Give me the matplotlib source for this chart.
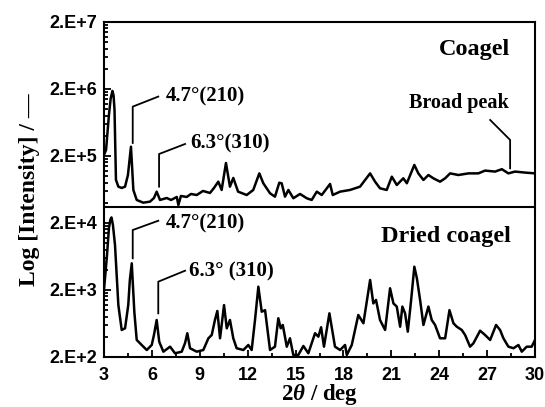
import numpy as np
import matplotlib
matplotlib.use('Agg')
import matplotlib.pyplot as plt
from matplotlib import rcParams
from matplotlib.ticker import FixedLocator, MultipleLocator, NullFormatter

rcParams.update({
    "font.family": 'Liberation Serif',
    "font.weight": 'bold',
    "mathtext.fontset": 'custom',
    "mathtext.rm": 'Liberation Serif:bold',
    "mathtext.it": 'Liberation Serif:italic:bold',
})

# coagel trace (offset upward)
tt_coagel = [3.00, 3.13, 3.22, 3.31, 3.42, 3.53, 3.60, 3.66, 3.75, 3.90, 4.11, 4.32, 4.50, 4.69,
             4.84, 5.05, 5.46,
             5.88, 6.13, 6.30, 6.51, 6.93, 7.20, 7.56, 7.66, 7.82, 8.18, 8.45, 8.81, 9.20, 9.64,
             9.89, 10.16, 10.37, 10.64, 10.89, 11.10, 11.40, 11.94, 12.35, 12.73, 12.98, 13.40,
             13.71, 13.98, 14.13, 14.34, 14.55, 14.86, 15.28, 15.70, 16.01, 16.33, 16.64, 17.16,
             17.33, 17.79, 18.41, 19.04, 19.67, 19.98, 20.29, 20.71, 21.03, 21.34, 21.75, 21.97,
             22.44, 22.69, 23.01, 23.32, 23.63, 24.05, 24.37, 24.68, 25.20, 25.83, 26.45, 26.87,
             27.50, 27.92, 28.33, 28.75, 29.38, 30.00]
I_coagel = [2.07e5, 2.46e5, 4.5e5, 8.2e5, 1.45e6, 1.87e6, 1.6e6, 9.7e5, 8.8e4, 6.97e4, 6.66e4,
            6.97e4, 1.04e5, 2.75e5,
            6.22e4, 4.41e4, 4.02e4, 4.16e4, 4.72e4, 5.87e4, 4.41e4, 4.72e4, 4.41e4, 4.89e4, 3.71e4,
            5.06e4, 4.89e4, 5.42e4, 5.23e4, 6.01e4, 5.61e4, 6.66e4, 8.27e4, 6.22e4, 1.57e5, 6.97e4,
            9.4e4, 5.87e4, 5.23e4, 6.22e4, 1.10e5, 7.83e4, 5.55e4, 4.94e4, 7.98e4, 7.83e4, 4.94e4,
            6.22e4, 4.68e4, 5.42e4, 4.68e4, 4.41e4, 5.87e4, 5.23e4, 7.64e4, 5.23e4, 5.87e4, 6.22e4,
            6.97e4, 1.10e5, 8.27e4, 6.59e4, 6.22e4, 9.82e4, 7.38e4, 9.29e4, 7.83e4, 1.47e5, 1.10e5,
            8.77e4, 1.04e5, 9.29e4, 8.27e4, 9.29e4, 1.10e5, 1.04e5, 1.10e5, 1.10e5, 1.21e5, 1.17e5,
            1.27e5, 1.10e5, 1.17e5, 1.13e5, 1.10e5]

# dried coagel trace
tt_dried = [3.00, 3.19, 3.31, 3.40, 3.47, 3.56, 3.69, 3.90, 4.11, 4.32, 4.52, 4.62, 4.74, 4.90, 5.05,
            5.36, 5.68, 5.99, 6.13, 6.30, 6.46, 6.72, 7.14, 7.45, 7.87, 8.08, 8.22, 8.39, 8.81,
            9.22, 9.54, 9.75, 9.95, 10.10, 10.27, 10.52, 10.69, 10.89, 11.10, 11.31, 11.73, 12.04,
            12.25, 12.46, 12.67, 12.88, 13.09, 13.40, 13.71, 13.92, 14.07, 14.20, 14.45, 14.65,
            14.86, 15.17, 15.49, 15.80, 16.22, 16.43, 16.60, 16.78, 17.12, 17.47, 17.79, 18.10,
            18.21, 18.52, 18.93, 19.25, 19.67, 19.87, 20.04, 20.29, 20.61, 20.92, 21.13, 21.34,
            21.55, 21.69, 21.86, 22.03, 22.24, 22.44, 22.60, 22.80, 23.01, 23.32, 23.53, 23.74,
            24.05, 24.37, 24.64, 24.89, 25.10, 25.41, 25.62, 25.93, 26.14, 26.56, 26.87, 27.19,
            27.56, 27.81, 28.02, 28.33, 28.65, 28.96, 29.17, 29.48, 29.79, 30.00]
I_dried = [2.0e3, 6.66e3, 1.68e4, 2.25e4, 2.42e4, 1.87e4, 9.4e3, 1.19e3, 506, 536, 1.19e3, 2.82e3, 5.0e3,
           948, 359, 302, 254, 302, 426, 713, 338, 240, 285, 227, 240, 324, 452, 270, 240,
           254, 380, 426, 713, 973, 380, 1.19e3, 536, 713, 380, 270, 254, 302,
           254, 713, 2.24e3, 948, 1.0e3, 254, 285, 757, 536, 601, 285, 380,
           214, 214, 292, 227, 452, 402, 555, 285, 897, 285, 254, 302,
           214, 302, 847, 637, 2.82e3, 1.26e3, 1.42e3, 713, 506, 2.12e3, 1.26e3, 1.13e3,
           566, 1.13e3, 897, 477, 1.42e3, 4.45e3, 2.99e3, 1.42e3, 601, 1.13e3, 713, 601,
           380, 380, 1.0e3, 637, 566, 506, 426, 285, 320, 494, 426, 359,
           601, 506, 380, 285, 270, 302, 240, 285, 285, 359]

ytick_vals = [2e2, 2e3, 2e4, 2e5, 2e6, 2e7]
ytick_labels = ['2.E+2', '2.E+3', '2.E+4', '2.E+5', '2.E+6', '2.E+7']
xtick_vals = [3, 6, 9, 12, 15, 18, 21, 24, 27, 30]

fig = plt.figure(figsize=(5.45, 4.07), dpi=100)
ax = fig.add_axes([0.1908, 0.1229, 0.7909, 0.8231])

ax.plot(tt_coagel, I_coagel, 'k-', linewidth=1.8)
ax.plot(tt_dried, I_dried, 'k-', linewidth=1.8)
ax.axhline(3.47e4, color='k', linewidth=1.5)

ax.set_yscale('log')
ax.set_xlim(3, 30)
ax.set_ylim(2e2, 2e7)

ax.yaxis.set_major_locator(FixedLocator(ytick_vals))
ax.set_yticklabels(ytick_labels)
minors = [b * k for b in ytick_vals[:-1] for k in range(2, 10)]
ax.yaxis.set_minor_locator(FixedLocator(minors))
ax.yaxis.set_minor_formatter(NullFormatter())
ax.xaxis.set_major_locator(FixedLocator(xtick_vals))
ax.xaxis.set_minor_locator(MultipleLocator(1.5))

tickfont = {'family': 'Liberation Sans', 'weight': 'bold', 'size': 13}
for lab in ax.get_xticklabels() + ax.get_yticklabels():
    lab.set_fontproperties(tickfont)
ax.tick_params(which='both', direction='in', top=False, right=False, width=1.3)
ax.tick_params(which='major', length=5, pad=5)
ax.tick_params(axis='x', which='major', pad=7)
ax.tick_params(which='minor', length=3)
for s in ax.spines.values():
    s.set_linewidth(1.5)

ax.set_xlabel('2$\\it{\\theta}$ / deg', fontsize=16.5, fontweight='bold', labelpad=-1)
ax.set_ylabel('Log [Intensity] / \u2014', fontsize=17, fontweight='bold', labelpad=7)

# peak markers
ax.plot([4.80, 4.80, 6.40], [3.13e5, 1.09e6, 1.54e6], 'k-', linewidth=1.3)
ax.plot([6.45, 6.45, 8.08], [6.97e4, 2.14e5, 3.02e5], 'k-', linewidth=1.3)
ax.plot([4.80, 4.80, 6.40], [5.94e3, 1.57e4, 2.16e4], 'k-', linewidth=1.3)
ax.plot([6.40, 6.40, 8.08], [897, 2.66e3, 3.88e3], 'k-', linewidth=1.3)
ax.plot([27.19, 28.44, 28.44], [6.89e5, 3.47e5, 1.31e5], 'k-', linewidth=1.3)

ax.text(6.86, 1.54e6, '4.7\u00b0(210)', fontsize=15, fontweight='bold', va='center', ha='left')
ax.text(8.39, 3.09e5, '6.3\u00b0(310)', fontsize=15, fontweight='bold', va='center', ha='left')
ax.text(6.86, 1.98e4, '4.7\u00b0(210)', fontsize=15, fontweight='bold', va='center', ha='left')
ax.text(8.34, 3.75e3, '6.3\u00b0 (310)', fontsize=15, fontweight='bold', va='center', ha='left')
ax.text(28.38, 1.24e6, 'Broad peak', fontsize=14.5, fontweight='bold', va='center', ha='right')
ax.text(28.44, 7.64e6, 'Coagel', fontsize=17.5, fontweight='bold', va='center', ha='right')
ax.text(28.50, 1.25e4, 'Dried coagel', fontsize=17.5, fontweight='bold', va='center', ha='right')

plt.savefig('out.png', dpi=100)
